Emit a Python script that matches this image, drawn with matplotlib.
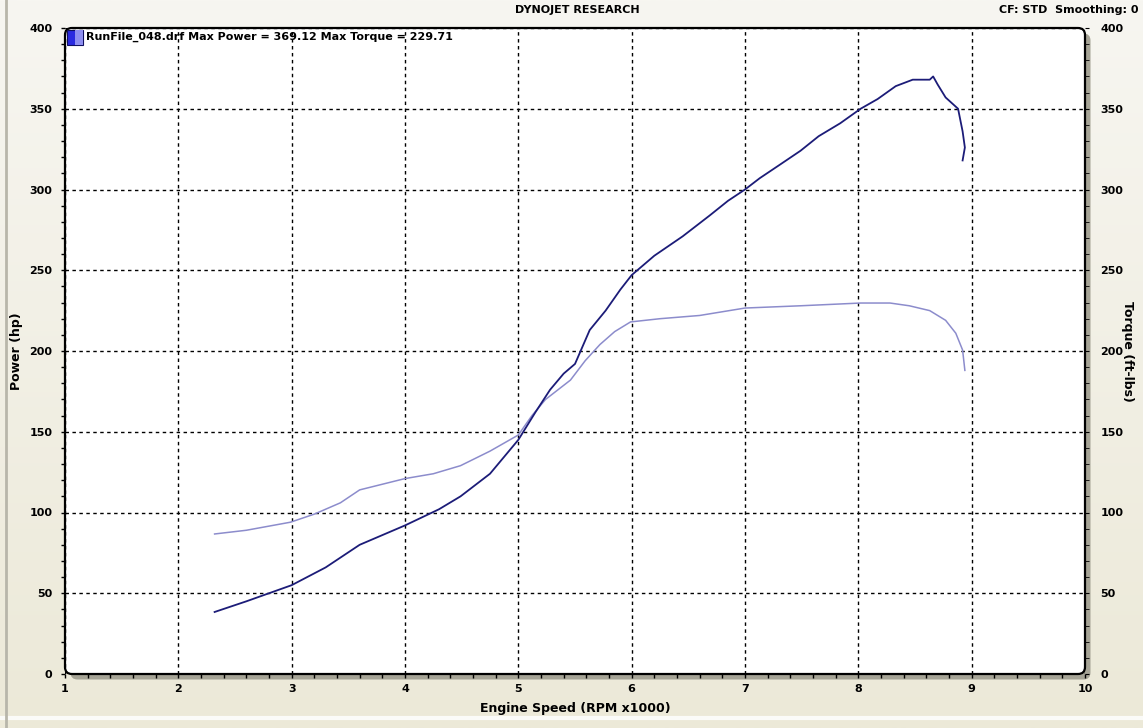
import matplotlib
matplotlib.use("Agg")
import matplotlib.pyplot as plt
import numpy as np
from matplotlib.colors import LinearSegmentedColormap
from matplotlib.patches import FancyBboxPatch, Rectangle

# engine speed (RPM x1000) and power (hp)
power_rpm = [2.32, 2.6, 3.0, 3.3, 3.6, 4.0, 4.3, 4.49, 4.75, 5.0, 5.15, 5.28, 5.4,
             5.5, 5.63, 5.77, 5.9, 6.0, 6.2, 6.45, 6.69, 6.85, 7.0, 7.13, 7.3,
             7.49, 7.65, 7.84, 8.02, 8.17, 8.33, 8.48, 8.63, 8.66, 8.70, 8.77,
             8.88, 8.92, 8.94, 8.92]
power_hp = [38.4, 45, 55, 66, 80, 92, 102, 110, 124, 145, 162, 176, 186,
            192, 213, 225, 238, 247, 259, 271, 284, 293, 300, 307, 315,
            324, 333, 341, 350, 356, 364, 368, 368, 370, 365, 357,
            350, 336, 326, 318]

# engine speed (RPM x1000) and torque (ft-lbs)
torque_rpm = [2.32, 2.6, 2.99, 3.2, 3.43, 3.6, 4.0, 4.25, 4.49, 4.75, 5.0, 5.12,
              5.24, 5.35, 5.46, 5.59, 5.72, 5.85, 5.99, 6.25, 6.6, 7.0, 7.49,
              8.02, 8.28, 8.45, 8.63, 8.77, 8.86, 8.92, 8.94]
torque_ftlb = [86.7, 89, 94, 99, 106, 114, 121, 124, 129, 138, 148, 160,
               170, 176, 182, 194, 204, 212, 218, 220, 222, 226.6, 228,
               229.7, 229.7, 228, 225, 219, 211, 200.6, 188]

x_ticks = list(range(1, 11))
y_ticks = list(range(0, 401, 50))

title_text = "DYNOJET RESEARCH"
info_text = "CF: STD  Smoothing: 0"
legend_text = "RunFile_048.drf Max Power = 369.12 Max Torque = 229.71"

BG = "#ece9d8"
SHADOW = "#a6a496"
POWER_C = "#1c1c78"
TORQUE_C = "#8c8ccc"
FONT = dict(family="DejaVu Sans", weight="bold")

fig = plt.figure(figsize=(11.43, 7.28), dpi=100)
fig.patch.set_facecolor(BG)

# soft background gradient (lighter at top)
bg_ax = fig.add_axes([0, 0, 1, 1], zorder=-10)
grad = np.linspace(0, 1, 256).reshape(-1, 1)
bg_cmap = LinearSegmentedColormap.from_list("bg", ["#f7f6f1", BG])
bg_ax.imshow(grad, aspect="auto", cmap=bg_cmap, extent=[0, 1, 0, 1], origin="upper")
bg_ax.axhline(0.014, color="#fbfbf8", lw=3)
bg_ax.axvline(0.005, color="#b8b6aa", lw=2)
bg_ax.set_xlim(0, 1)
bg_ax.set_ylim(0, 1)
bg_ax.axis("off")

# plot area in inches
L, R, B, T = 0.65, 10.85, 0.54, 7.00
off = 0.055
tr = fig.dpi_scale_trans
fig.patches.append(FancyBboxPatch((L + off, B - off), R - L, T - B,
                                  boxstyle="round,pad=0,rounding_size=0.07",
                                  transform=tr, fc=SHADOW, ec="none", zorder=0))
fig.patches.append(FancyBboxPatch((L, B), R - L, T - B,
                                  boxstyle="round,pad=0,rounding_size=0.07",
                                  transform=tr, fc="white", ec="black", lw=1.6, zorder=1))

W, H = 11.43, 7.28
ax = fig.add_axes([L / W, B / H, (R - L) / W, (T - B) / H], zorder=2)
ax.patch.set_visible(False)
for s in ax.spines.values():
    s.set_visible(False)

ax.plot(torque_rpm, torque_ftlb, color=TORQUE_C, lw=1.1)
ax.plot(power_rpm, power_hp, color=POWER_C, lw=1.3)

ax.set_xlim(1, 10)
ax.set_ylim(0, 400)
ax.set_xticks(x_ticks)
ax.set_yticks(y_ticks)
ax.set_xticks(np.arange(1, 10.01, 0.2), minor=True)
ax.set_yticks(np.arange(0, 401, 10), minor=True)
ax.grid(True, which="major", color="black", ls=(0, (2.5, 2.5)), lw=1.0)
ax.tick_params(axis="both", which="both", direction="out", color="black",
               length=3, width=1)
ax.tick_params(axis="x", which="both", pad=4, bottom=True)
ax.tick_params(axis="y", which="both", left=True, pad=6)
ax.set_xticklabels([str(v) for v in x_ticks], fontsize=8, **FONT)
ax.set_yticklabels([str(v) for v in y_ticks], fontsize=8, **FONT)
ax.set_xlabel("Engine Speed (RPM x1000)", fontsize=9, labelpad=6, **FONT)
ax.set_ylabel("Power (hp)", fontsize=9, **FONT)
ax.yaxis.set_label_coords(-0.041, 0.5)

ax2 = ax.twinx()
ax2.patch.set_visible(False)
for s in ax2.spines.values():
    s.set_visible(False)
ax2.set_ylim(0, 400)
ax2.set_yticks(y_ticks)
ax2.set_yticks(np.arange(0, 401, 10), minor=True)
ax2.tick_params(axis="y", which="both", direction="out", length=3, pad=8)
ax2.set_yticklabels([str(v) for v in y_ticks], fontsize=8, **FONT)
ax2.set_ylabel("Torque (ft-lbs)", fontsize=9, rotation=-90, va="center", **FONT)
ax2.yaxis.set_label_coords(1.042, 0.5)

# legend swatch and text
fig.patches.append(Rectangle((0.67, 6.83), 0.16, 0.15, transform=tr,
                             fc="#2a2ae0", ec="#101060", lw=0.8, zorder=5))
fig.patches.append(Rectangle((0.75, 6.83), 0.08, 0.15, transform=tr,
                             fc="#8e8ef0", ec="none", zorder=5))
fig.text(0.86 / W, 6.91 / H, legend_text, fontsize=8, va="center", ha="left", **FONT)

fig.text(0.505, 0.986, title_text, fontsize=8, ha="center", va="center", **FONT)
fig.text(0.996, 0.986, info_text, fontsize=8, ha="right", va="center", **FONT)

fig.savefig("out.png", dpi=100, facecolor=fig.get_facecolor())
